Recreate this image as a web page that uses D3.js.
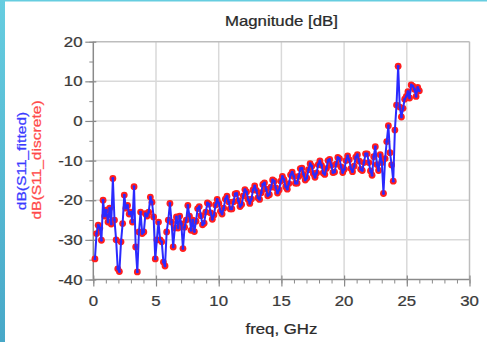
<!DOCTYPE html>
<html>
<head>
<meta charset="utf-8">
<script src="https://cdn.jsdelivr.net/npm/d3@7"></script>
<style>
  html, body { margin: 0; padding: 0; background: #fff; }
  svg { display: block; }
  text { font-family: "Liberation Sans", Arial, sans-serif; }
</style>
</head>
<body>
<svg id="chart" width="487" height="342"></svg>
<script>
// Frequency sweep (GHz)
const freqGHz = [
  0.13,0.26,0.39,0.52,0.65,0.78,0.91,1.04,1.17,1.30,
  1.43,1.56,1.69,1.82,1.95,2.08,2.21,2.34,2.47,2.60,
  2.73,2.86,2.99,3.12,3.25,3.38,3.51,3.64,3.77,3.90,
  4.03,4.16,4.29,4.42,4.55,4.68,4.81,4.94,5.07,5.20,
  5.33,5.46,5.59,5.72,5.85,5.98,6.11,6.24,6.37,6.50,
  6.63,6.76,6.89,7.02,7.15,7.28,7.41,7.54,7.67,7.80,
  7.93,8.06,8.19,8.32,8.45,8.58,8.71,8.84,8.97,9.10,
  9.23,9.36,9.49,9.62,9.75,9.88,10.01,10.14,10.27,10.40,
  10.53,10.66,10.79,10.92,11.05,11.18,11.31,11.44,11.57,11.70,
  11.83,11.96,12.09,12.22,12.35,12.48,12.61,12.74,12.87,13.00,
  13.13,13.26,13.39,13.52,13.65,13.78,13.91,14.04,14.17,14.30,
  14.43,14.56,14.69,14.82,14.95,15.08,15.21,15.34,15.47,15.60,
  15.73,15.86,15.99,16.12,16.25,16.38,16.51,16.64,16.77,16.90,
  17.03,17.16,17.29,17.42,17.55,17.68,17.81,17.94,18.07,18.20,
  18.33,18.46,18.59,18.72,18.85,18.98,19.11,19.24,19.37,19.50,
  19.63,19.76,19.89,20.02,20.15,20.28,20.41,20.54,20.67,20.80,
  20.93,21.06,21.19,21.32,21.45,21.58,21.71,21.84,21.97,22.10,
  22.23,22.36,22.49,22.62,22.75,22.88,23.01,23.14,23.27,23.40,
  23.53,23.66,23.79,23.92,24.05,24.18,24.31,24.44,24.57,24.70,
  24.83,24.96,25.09,25.22,25.35,25.48,25.61,25.74,25.87,26.00
];

// dB(S11_discrete): measured samples
const s11Discrete = [
  -34.8,-28.4,-26.3,-27.0,-30.1,-20.0,-24.0,-22.5,-25.5,-22.0,
  -26.0,-14.5,-25.0,-30.0,-37.3,-38.0,-30.5,-25.9,-18.7,-22.0,
  -21.3,-23.5,-23.0,-25.5,-16.6,-31.8,-38.1,-28.0,-23.0,-28.4,
  -28.0,-23.4,-24.0,-23.0,-19.2,-20.5,-24.2,-34.8,-30.0,-25.5,
  -30.0,-30.5,-35.6,-36.6,-28.0,-25.0,-20.8,-25.5,-31.8,-27.0,
  -24.2,-27.0,-24.0,-26.0,-32.2,-26.8,-25.0,-21.3,-24.0,-27.6,
  -25.0,-27.9,-25.3,-22.1,-21.6,-23.9,-26.2,-25.8,-23.0,-20.7,
  -21.0,-23.2,-24.8,-23.7,-21.2,-19.8,-20.8,-22.8,-23.5,-22.0,
  -19.7,-19.0,-20.4,-22.2,-22.2,-20.4,-18.4,-18.3,-20.1,-21.6,
  -21.1,-18.9,-17.3,-17.9,-19.8,-20.8,-19.7,-17.4,-16.4,-17.5,
  -19.4,-19.8,-18.1,-16.0,-15.6,-17.2,-18.9,-18.6,-16.7,-14.9,
  -15.2,-16.9,-18.2,-17.4,-15.2,-14.0,-14.8,-16.6,-17.2,-15.8,
  -13.6,-12.9,-14.0,-15.7,-15.7,-14.0,-12.0,-11.9,-13.5,-14.9,
  -14.4,-12.3,-10.8,-11.4,-13.3,-14.2,-13.1,-11.0,-10.1,-11.2,
  -13.1,-13.5,-12.0,-10.0,-9.7,-11.2,-13.0,-12.9,-10.9,-9.2,
  -9.5,-11.6,-13.0,-12.2,-10.0,-8.8,-9.8,-12.0,-12.8,-11.4,
  -9.1,-8.5,-10.1,-12.2,-12.5,-10.5,-8.3,-8.3,-10.5,-12.6,
  -13.7,-9.0,-6.5,-11.0,-12.5,-8.5,-10.5,-18.3,-9.5,-5.2,
  -1.2,-8.0,-11.1,-15.2,-2.3,4.0,13.8,3.5,1.0,3.2,
  5.5,6.2,7.4,5.8,9.1,8.8,8.0,6.2,8.5,7.6
];

// dB(S11_fitted): the fitted model evaluated on the same sweep
const s11Fitted = s11Discrete.slice();

const xTicks = [0, 5, 10, 15, 20, 25, 30];
const yTicks = [20, 10, 0, -10, -20, -30, -40];
const xMinorTicks = d3.range(0, 31, 1);
const yMinorTicks = d3.range(-40, 21, 5);

const svg = d3.select("#chart");
const W = 487, H = 342;
const plot = { left: 93.3, right: 469.5, top: 41.7, bottom: 279.5 };

// side accent strip
const defs = svg.append("defs");
const grad = defs.append("linearGradient").attr("id", "strip")
  .attr("x1", 0).attr("y1", 0).attr("x2", 0).attr("y2", 1);
grad.append("stop").attr("offset", "0%").attr("stop-color", "#66cde0");
grad.append("stop").attr("offset", "100%").attr("stop-color", "#48a8c8");
svg.append("rect").attr("x", 0).attr("y", 0).attr("width", W).attr("height", H).attr("fill", "#fff");
svg.append("rect").attr("x", 0).attr("y", 0).attr("width", 5).attr("height", H).attr("fill", "url(#strip)");
svg.append("rect").attr("x", 0).attr("y", 0).attr("width", W).attr("height", 1.5).attr("fill", "#66cde0");

const x = d3.scaleLinear().domain([0, 30]).range([plot.left, plot.right]);
const y = d3.scaleLinear().domain([-40, 20]).range([plot.bottom, plot.top]);

// grid
const grid = svg.append("g");
grid.selectAll(".vg").data(xTicks.slice(1, -1)).join("line")
  .attr("x1", d => x(d)).attr("x2", d => x(d))
  .attr("y1", plot.top).attr("y2", plot.bottom)
  .attr("stroke", "#d9d9d9").attr("stroke-width", 1.5);
grid.selectAll(".hg").data(yTicks.slice(1, -1)).join("line")
  .attr("x1", plot.left).attr("x2", plot.right)
  .attr("y1", d => y(d)).attr("y2", d => y(d))
  .attr("stroke", "#d9d9d9").attr("stroke-width", 1.5);

// frame top/right
svg.append("line").attr("x1", plot.left).attr("x2", plot.right)
  .attr("y1", plot.top).attr("y2", plot.top).attr("stroke", "#bdbdbd").attr("stroke-width", 1.5);
svg.append("line").attr("x1", plot.right).attr("x2", plot.right)
  .attr("y1", plot.top).attr("y2", plot.bottom).attr("stroke", "#bdbdbd").attr("stroke-width", 1.5);

// axes
const axisColor = "#8a8a8a";
const xAxis = svg.append("g").attr("transform", `translate(0,${plot.bottom})`)
  .call(d3.axisBottom(x).tickValues(xMinorTicks).tickSize(4).tickFormat(""));
xAxis.select(".domain").remove();
xAxis.selectAll("line").attr("stroke", axisColor).attr("stroke-width", 1);
const xMajor = svg.append("g").attr("transform", `translate(0,${plot.bottom})`)
  .call(d3.axisBottom(x).tickValues(xTicks).tickSize(7).tickFormat(""));
xMajor.select(".domain").remove();
xMajor.selectAll("line").attr("stroke", axisColor).attr("stroke-width", 1.2).attr("y1", -4);

const yAxis = svg.append("g").attr("transform", `translate(${plot.left},0)`)
  .call(d3.axisLeft(y).tickValues(yMinorTicks).tickSize(4).tickFormat(""));
yAxis.select(".domain").remove();
yAxis.selectAll("line").attr("stroke", axisColor).attr("stroke-width", 1);
const yMajor = svg.append("g").attr("transform", `translate(${plot.left},0)`)
  .call(d3.axisLeft(y).tickValues(yTicks).tickSize(8).tickFormat(""));
yMajor.select(".domain").remove();
yMajor.selectAll("line").attr("stroke", axisColor).attr("stroke-width", 1.2).attr("x1", 3);

svg.append("line").attr("x1", plot.left).attr("x2", plot.right)
  .attr("y1", plot.bottom).attr("y2", plot.bottom).attr("stroke", axisColor).attr("stroke-width", 1.5);
svg.append("line").attr("x1", plot.left).attr("x2", plot.left)
  .attr("y1", plot.top).attr("y2", plot.bottom).attr("stroke", axisColor).attr("stroke-width", 1.5);

// text helper: horizontally widened glyphs
function label(g, tx, ty, str, opts) {
  const o = Object.assign({ size: 14, fill: "#333", anchor: "middle", rotate: 0, sx: 1.2 }, opts || {});
  return g.append("text")
    .attr("transform", `translate(${tx},${ty}) rotate(${o.rotate}) scale(${o.sx},1)`)
    .attr("text-anchor", o.anchor)
    .attr("font-size", o.size)
    .attr("fill", o.fill)
    .attr("stroke", o.fill)
    .attr("stroke-width", 0.25)
    .text(str);
}

const labels = svg.append("g");
xTicks.forEach(t => label(labels, x(t), 306, String(t), { fill: "#3a3a3a" }));
yTicks.forEach(t => label(labels, 82.5, y(t) + 5, String(t), { anchor: "end", fill: "#3a3a3a" }));

label(labels, (plot.left + plot.right) / 2, 26, "Magnitude [dB]", { fill: "#2a2a2a" });
label(labels, (plot.left + plot.right) / 2, 334, "freq, GHz", { fill: "#2a2a2a" });
label(labels, 26, 161, "dB(S11_fitted)", { size: 13, fill: "#3b3bff", rotate: -90 });
label(labels, 41, 160, "dB(S11_discrete)", { size: 13, fill: "#ff4a4a", rotate: -90 });

// traces
const discrete = freqGHz.map((f, i) => ({ f, v: s11Discrete[i] }));
const fitted = freqGHz.map((f, i) => ({ f, v: s11Fitted[i] }));

svg.append("g").selectAll("circle").data(discrete).join("circle")
  .attr("cx", d => x(d.f)).attr("cy", d => y(d.v)).attr("r", 3.4)
  .attr("fill", "#ff1e1e");

const line = d3.line().x(d => x(d.f)).y(d => y(d.v));
svg.append("path").datum(fitted).attr("d", line)
  .attr("fill", "none").attr("stroke", "#2a2aff").attr("stroke-width", 2)
  .attr("stroke-linejoin", "round");
svg.append("g").selectAll("circle").data(fitted).join("circle")
  .attr("cx", d => x(d.f)).attr("cy", d => y(d.v)).attr("r", 1.4)
  .attr("fill", "#2a2aff");
</script>
</body>
</html>
